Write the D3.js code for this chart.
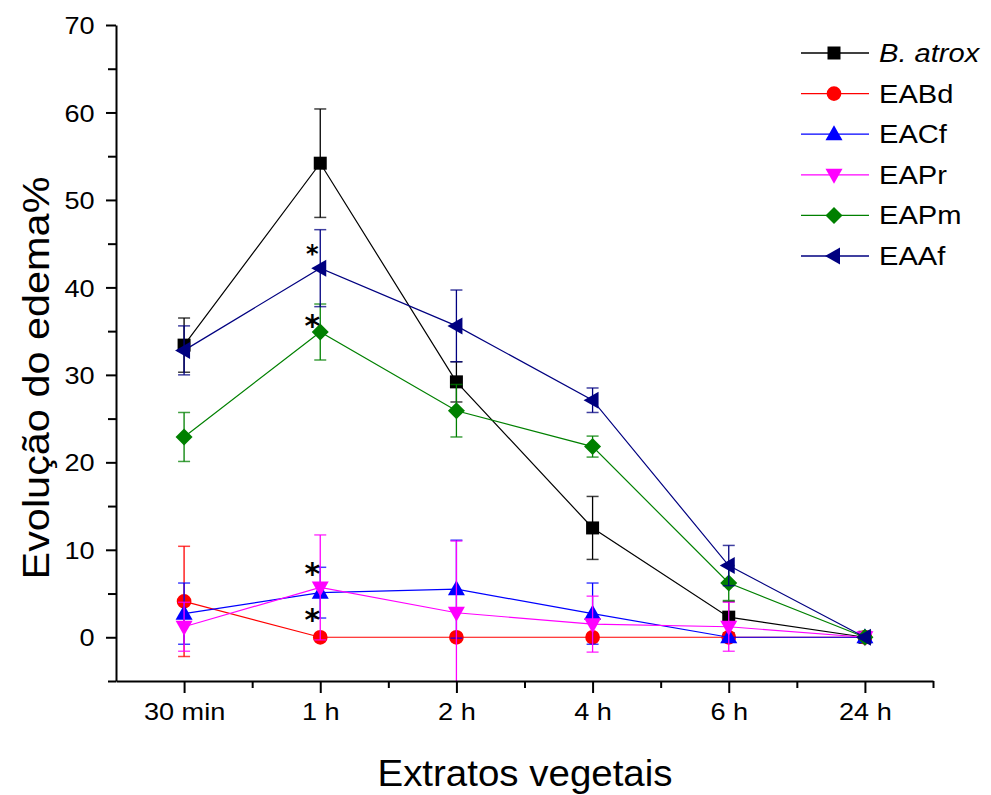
<!DOCTYPE html>
<html>
<head>
<meta charset="utf-8">
<script src="https://cdn.jsdelivr.net/npm/d3@7"></script>
<style>
  html, body { margin: 0; padding: 0; background: #fff; }
  svg { display: block; font-family: "Liberation Sans", Arial, sans-serif; }
</style>
</head>
<body>
<svg id="chart" width="991" height="795"></svg>
<script>
// ---- Data ----
const categories = ["30 min", "1 h", "2 h", "4 h", "6 h", "24 h"];
const seriesNames = ["B. atrox", "EABd", "EACf", "EAPr", "EAPm", "EAAf"];
const bAtrox    = [33.4, 54.2, 29.2, 12.5, 2.3, 0];
const bAtroxErr = [3.1, 6.2, 2.3, 3.6, 1.8, 0];
const eabd      = [4.1, 0, 0, 0, 0, 0];
const eabdErr   = [6.3, 0, 0, 0, 0, 0];
const eacf      = [2.7, 5.1, 5.5, 2.7, 0, 0];
const eacfErr   = [3.5, 2.9, 5.6, 3.5, 0, 0];
const eapr      = [1.2, 5.7, 2.8, 1.5, 1.2, 0];
const eaprErr   = [2.8, 6.0, 8.2, 3.2, 2.8, 0];
const eapm      = [22.9, 34.9, 25.9, 21.8, 6.2, 0];
const eapmErr   = [2.8, 3.2, 3.0, 1.2, 2.0, 0];
const eaaf      = [32.8, 42.2, 35.6, 27.1, 8.2, 0];
const eaafErr   = [2.8, 4.4, 4.1, 1.4, 2.3, 0];
const yTicks = [0, 10, 20, 30, 40, 50, 60, 70];
const yMinorTicks = [-5, 5, 15, 25, 35, 45, 55, 65];
// significance marks: [category index, value position, size]
const asterisks = [[1, 44.6, "small"], [1, 36.6, "big"], [1, 8.2, "big"], [1, 3.0, "big"]];

const series = [
  { name: seriesNames[0], values: bAtrox, err: bAtroxErr, color: "#000000", symbol: "square" },
  { name: seriesNames[1], values: eabd,   err: eabdErr,   color: "#ff0000", symbol: "circle" },
  { name: seriesNames[2], values: eacf,   err: eacfErr,   color: "#0000ff", symbol: "up" },
  { name: seriesNames[3], values: eapr,   err: eaprErr,   color: "#ff00ff", symbol: "down" },
  { name: seriesNames[4], values: eapm,   err: eapmErr,   color: "#008000", symbol: "diamond" },
  { name: seriesNames[5], values: eaaf,   err: eaafErr,   color: "#000080", symbol: "left" }
];

// ---- Layout ----
const svg = d3.select("#chart");
const x = d3.scaleLinear().domain([-0.5, 5.5]).range([116, 933]);
const y = d3.scaleLinear().domain([-5, 70]).range([681, 25]);

function symbolPath(type) {
  switch (type) {
    case "square": return "M-6.5,-6.5H6.5V6.5H-6.5Z";
    case "circle": return d3.symbol(d3.symbolCircle, 170)();
    case "up": return "M0,-9L8.5,6H-8.5Z";
    case "down": return "M0,9L8.5,-6H-8.5Z";
    case "diamond": return "M0,-8.5L8.5,0L0,8.5L-8.5,0Z";
    case "left": return "M-9,0L6,-8.5V8.5Z";
  }
}

svg.append("defs").append("clipPath").attr("id", "plotclip")
  .append("rect").attr("x", 100).attr("y", 0).attr("width", 891).attr("height", 681);

const plot = svg.append("g").attr("clip-path", "url(#plotclip)");

series.forEach(s => {
  const g = plot.append("g");
  // error bars
  s.values.forEach((v, i) => {
    const e = s.err[i];
    if (!e) return;
    const cx = x(i);
    g.append("line").attr("x1", cx).attr("x2", cx).attr("y1", y(v - e)).attr("y2", y(v + e))
      .attr("stroke", s.color).attr("stroke-width", 1.3);
    [v - e, v + e].forEach(t => {
      g.append("line").attr("x1", cx - 6).attr("x2", cx + 6).attr("y1", y(t)).attr("y2", y(t))
        .attr("stroke", s.color).attr("stroke-width", 1.5).attr("stroke-opacity", 0.75);
    });
  });
  // line
  g.append("path").datum(s.values)
    .attr("fill", "none").attr("stroke", s.color).attr("stroke-width", 1.2)
    .attr("d", d3.line().x((d, i) => x(i)).y(d => y(d)));
  // markers
  g.selectAll("path.m").data(s.values).join("path").attr("class", "m")
    .attr("transform", (d, i) => `translate(${x(i)},${y(d)})`)
    .attr("d", symbolPath(s.symbol))
    .attr("fill", s.color);
});

// ---- Axes ----
const xAxis = svg.append("g").attr("transform", `translate(0,${y(-5)})`)
  .call(d3.axisBottom(x).tickValues(d3.range(0, 6)).tickFormat(i => categories[i])
    .tickSize(12).tickSizeOuter(0).tickPadding(10));
svg.append("g").attr("transform", `translate(0,${y(-5)})`)
  .call(d3.axisBottom(x).tickValues([0.5, 1.5, 2.5, 3.5, 4.5, 5.5]).tickFormat("")
    .tickSize(7).tickSizeOuter(0))
  .call(g => g.select(".domain").remove());

const yAxis = svg.append("g").attr("transform", `translate(${x(-0.5)},0)`)
  .call(d3.axisLeft(y).tickValues(yTicks).tickSize(10).tickSizeOuter(0).tickPadding(9));
svg.append("g").attr("transform", `translate(${x(-0.5)},0)`)
  .call(d3.axisLeft(y).tickValues(yMinorTicks).tickFormat("").tickSize(8).tickSizeOuter(0))
  .call(g => g.select(".domain").remove());

svg.selectAll(".domain, .tick line").attr("stroke", "#000").attr("stroke-width", 2);
xAxis.selectAll("text").attr("font-size", 24).attr("fill", "#000")
  .attr("font-family", "Liberation Sans, Arial, sans-serif")
  .attr("transform", "scale(1.13,1)");
yAxis.selectAll("text").attr("font-size", 24).attr("fill", "#000")
  .attr("font-family", "Liberation Sans, Arial, sans-serif")
  .attr("dy", "0.36em")
  .attr("transform", "scale(1.13,1)");

// ---- Axis titles ----
svg.append("text").attr("transform", "translate(525,786) scale(1.04,1)")
  .attr("text-anchor", "middle").attr("font-size", 37).text("Extratos vegetais");
svg.append("text").attr("transform", "translate(49,378) rotate(-90) scale(1.12,1)")
  .attr("text-anchor", "middle").attr("font-size", 37).text("Evolução do edema%");

// ---- Asterisks ----
asterisks.forEach(([i, v, sz]) => {
  const fs = sz === "small" ? 24 : 30;
  svg.append("text").attr("x", x(i) - 8).attr("y", y(v) + fs * 0.62)
    .attr("text-anchor", "middle").attr("font-size", fs).attr("font-weight", "bold")
    .attr("font-family", "DejaVu Sans, sans-serif").text("*");
});

// ---- Legend ----
const legend = svg.append("g");
series.forEach((s, k) => {
  const ly = 53 + k * 40.6;
  legend.append("line").attr("x1", 801).attr("x2", 869).attr("y1", ly).attr("y2", ly)
    .attr("stroke", s.color).attr("stroke-width", 1.3);
  legend.append("path").attr("transform", `translate(834,${ly})`)
    .attr("d", symbolPath(s.symbol)).attr("fill", s.color);
  legend.append("text").attr("transform", `translate(879,${ly + 9}) scale(1.12,1)`)
    .attr("font-size", 26).attr("font-style", k === 0 ? "italic" : "normal").text(s.name);
});
</script>
</body>
</html>
